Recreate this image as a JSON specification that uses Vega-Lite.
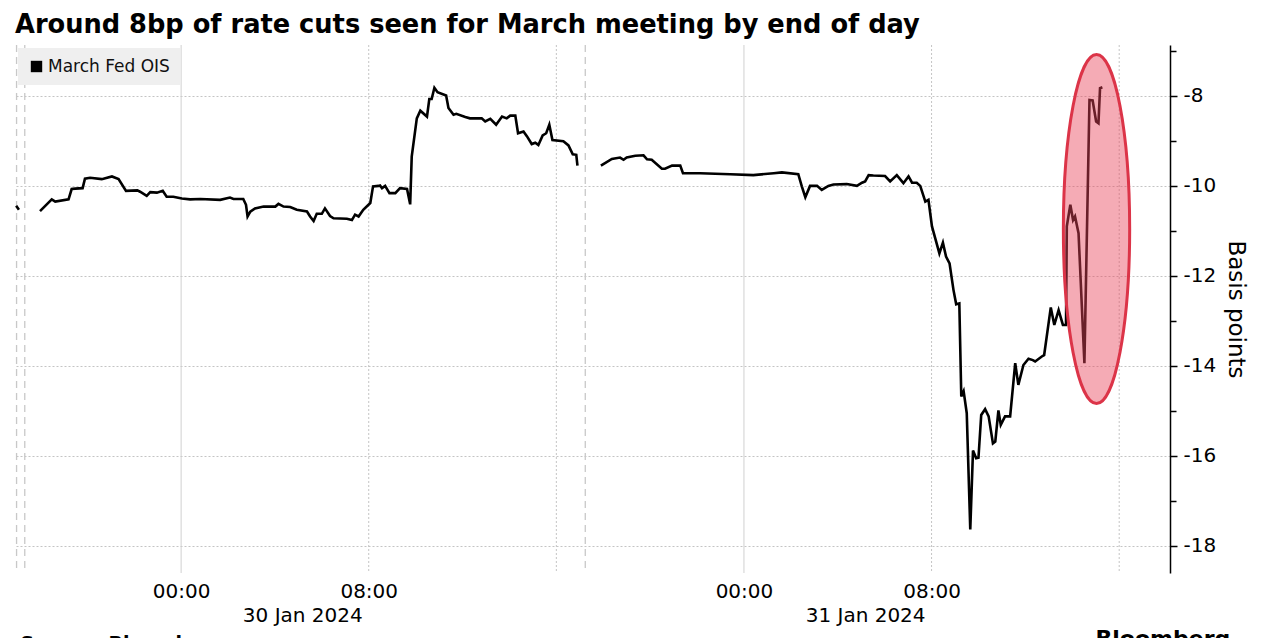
{
  "$schema": "https://vega.github.io/schema/vega-lite/v6.json",
  "autosize": {"type": "none"},
  "padding": {"left": 15, "top": 45, "right": 112, "bottom": 65},
  "width": 1155,
  "height": 528,
  "background": "#ffffff",
  "config": {"view": {"stroke": null}, "font": "DejaVu Sans"},
  "title": {
    "text": "Around 8bp of rate cuts seen for March meeting by end of day",
    "anchor": "start", "frame": "group", "font": "DejaVu Sans", "fontSize": 25.7, "fontWeight": "bold",
    "color": "#000000", "baseline": "alphabetic", "offset": 14, "dy": 28
  },
  "datasets": {
    "midnights": [{"t": "2024-01-30T00:00"}, {"t": "2024-01-31T00:00"}],
    "hours": [{"t": "2024-01-30T08:00"}, {"t": "2024-01-30T16:00"}, {"t": "2024-01-31T08:00"}, {"t": "2024-01-31T16:00"}],
    "breaks": [{"t": "2024-01-29T16:59"}, {"t": "2024-01-29T17:20"}, {"t": "2024-01-30T17:14"}],
    "highlight": [{"t": "2024-01-31T15:02", "v": -10.96}],
    "ois": [
      {"t": "2024-01-29T16:58", "v": -10.44, "seg": 1},
      {"t": "2024-01-29T17:05", "v": -10.53, "seg": 1},
      {"t": "2024-01-29T17:59", "v": -10.56, "seg": 2},
      {"t": "2024-01-29T18:29", "v": -10.30, "seg": 2},
      {"t": "2024-01-29T18:38", "v": -10.35, "seg": 2},
      {"t": "2024-01-29T19:12", "v": -10.30, "seg": 2},
      {"t": "2024-01-29T19:20", "v": -10.07, "seg": 2},
      {"t": "2024-01-29T19:29", "v": -10.06, "seg": 2},
      {"t": "2024-01-29T19:48", "v": -10.05, "seg": 2},
      {"t": "2024-01-29T19:54", "v": -9.84, "seg": 2},
      {"t": "2024-01-29T20:07", "v": -9.82, "seg": 2},
      {"t": "2024-01-29T20:37", "v": -9.85, "seg": 2},
      {"t": "2024-01-29T21:03", "v": -9.79, "seg": 2},
      {"t": "2024-01-29T21:20", "v": -9.85, "seg": 2},
      {"t": "2024-01-29T21:39", "v": -10.11, "seg": 2},
      {"t": "2024-01-29T22:08", "v": -10.10, "seg": 2},
      {"t": "2024-01-29T22:15", "v": -10.13, "seg": 2},
      {"t": "2024-01-29T22:32", "v": -10.22, "seg": 2},
      {"t": "2024-01-29T22:41", "v": -10.14, "seg": 2},
      {"t": "2024-01-29T22:58", "v": -10.15, "seg": 2},
      {"t": "2024-01-29T23:13", "v": -10.11, "seg": 2},
      {"t": "2024-01-29T23:23", "v": -10.24, "seg": 2},
      {"t": "2024-01-29T23:40", "v": -10.24, "seg": 2},
      {"t": "2024-01-30T00:02", "v": -10.28, "seg": 2},
      {"t": "2024-01-30T00:23", "v": -10.30, "seg": 2},
      {"t": "2024-01-30T00:49", "v": -10.29, "seg": 2},
      {"t": "2024-01-30T01:40", "v": -10.31, "seg": 2},
      {"t": "2024-01-30T02:05", "v": -10.26, "seg": 2},
      {"t": "2024-01-30T02:14", "v": -10.29, "seg": 2},
      {"t": "2024-01-30T02:39", "v": -10.29, "seg": 2},
      {"t": "2024-01-30T02:46", "v": -10.42, "seg": 2},
      {"t": "2024-01-30T02:50", "v": -10.68, "seg": 2},
      {"t": "2024-01-30T02:57", "v": -10.57, "seg": 2},
      {"t": "2024-01-30T03:09", "v": -10.50, "seg": 2},
      {"t": "2024-01-30T03:31", "v": -10.46, "seg": 2},
      {"t": "2024-01-30T04:01", "v": -10.46, "seg": 2},
      {"t": "2024-01-30T04:09", "v": -10.40, "seg": 2},
      {"t": "2024-01-30T04:22", "v": -10.46, "seg": 2},
      {"t": "2024-01-30T04:39", "v": -10.47, "seg": 2},
      {"t": "2024-01-30T04:56", "v": -10.53, "seg": 2},
      {"t": "2024-01-30T05:22", "v": -10.57, "seg": 2},
      {"t": "2024-01-30T05:30", "v": -10.68, "seg": 2},
      {"t": "2024-01-30T05:39", "v": -10.78, "seg": 2},
      {"t": "2024-01-30T05:47", "v": -10.62, "seg": 2},
      {"t": "2024-01-30T06:00", "v": -10.62, "seg": 2},
      {"t": "2024-01-30T06:08", "v": -10.50, "seg": 2},
      {"t": "2024-01-30T06:21", "v": -10.67, "seg": 2},
      {"t": "2024-01-30T06:30", "v": -10.72, "seg": 2},
      {"t": "2024-01-30T07:04", "v": -10.73, "seg": 2},
      {"t": "2024-01-30T07:17", "v": -10.76, "seg": 2},
      {"t": "2024-01-30T07:25", "v": -10.64, "seg": 2},
      {"t": "2024-01-30T07:34", "v": -10.68, "seg": 2},
      {"t": "2024-01-30T07:46", "v": -10.53, "seg": 2},
      {"t": "2024-01-30T08:04", "v": -10.38, "seg": 2},
      {"t": "2024-01-30T08:11", "v": -10.01, "seg": 2},
      {"t": "2024-01-30T08:25", "v": -10.00, "seg": 2},
      {"t": "2024-01-30T08:29", "v": -9.99, "seg": 2},
      {"t": "2024-01-30T08:34", "v": -10.05, "seg": 2},
      {"t": "2024-01-30T08:42", "v": -10.00, "seg": 2},
      {"t": "2024-01-30T08:53", "v": -10.16, "seg": 2},
      {"t": "2024-01-30T09:08", "v": -10.16, "seg": 2},
      {"t": "2024-01-30T09:20", "v": -10.05, "seg": 2},
      {"t": "2024-01-30T09:38", "v": -10.07, "seg": 2},
      {"t": "2024-01-30T09:46", "v": -10.41, "seg": 2},
      {"t": "2024-01-30T09:50", "v": -9.35, "seg": 2},
      {"t": "2024-01-30T10:03", "v": -8.50, "seg": 2},
      {"t": "2024-01-30T10:12", "v": -8.33, "seg": 2},
      {"t": "2024-01-30T10:29", "v": -8.46, "seg": 2},
      {"t": "2024-01-30T10:35", "v": -8.07, "seg": 2},
      {"t": "2024-01-30T10:41", "v": -8.07, "seg": 2},
      {"t": "2024-01-30T10:48", "v": -7.82, "seg": 2},
      {"t": "2024-01-30T10:56", "v": -7.92, "seg": 2},
      {"t": "2024-01-30T11:18", "v": -7.99, "seg": 2},
      {"t": "2024-01-30T11:24", "v": -8.27, "seg": 2},
      {"t": "2024-01-30T11:37", "v": -8.42, "seg": 2},
      {"t": "2024-01-30T11:44", "v": -8.40, "seg": 2},
      {"t": "2024-01-30T12:07", "v": -8.47, "seg": 2},
      {"t": "2024-01-30T12:19", "v": -8.50, "seg": 2},
      {"t": "2024-01-30T12:49", "v": -8.50, "seg": 2},
      {"t": "2024-01-30T12:58", "v": -8.57, "seg": 2},
      {"t": "2024-01-30T13:11", "v": -8.51, "seg": 2},
      {"t": "2024-01-30T13:26", "v": -8.64, "seg": 2},
      {"t": "2024-01-30T13:41", "v": -8.46, "seg": 2},
      {"t": "2024-01-30T13:53", "v": -8.50, "seg": 2},
      {"t": "2024-01-30T14:02", "v": -8.44, "seg": 2},
      {"t": "2024-01-30T14:15", "v": -8.44, "seg": 2},
      {"t": "2024-01-30T14:22", "v": -8.83, "seg": 2},
      {"t": "2024-01-30T14:36", "v": -8.79, "seg": 2},
      {"t": "2024-01-30T14:45", "v": -8.90, "seg": 2},
      {"t": "2024-01-30T14:57", "v": -9.07, "seg": 2},
      {"t": "2024-01-30T15:06", "v": -9.04, "seg": 2},
      {"t": "2024-01-30T15:14", "v": -9.09, "seg": 2},
      {"t": "2024-01-30T15:25", "v": -8.88, "seg": 2},
      {"t": "2024-01-30T15:34", "v": -8.83, "seg": 2},
      {"t": "2024-01-30T15:42", "v": -8.64, "seg": 2},
      {"t": "2024-01-30T15:50", "v": -8.98, "seg": 2},
      {"t": "2024-01-30T16:18", "v": -9.01, "seg": 2},
      {"t": "2024-01-30T16:31", "v": -9.10, "seg": 2},
      {"t": "2024-01-30T16:42", "v": -9.30, "seg": 2},
      {"t": "2024-01-30T16:51", "v": -9.31, "seg": 2},
      {"t": "2024-01-30T16:54", "v": -9.55, "seg": 2},
      {"t": "2024-01-30T17:54", "v": -9.55, "seg": 3},
      {"t": "2024-01-30T18:22", "v": -9.40, "seg": 3},
      {"t": "2024-01-30T18:43", "v": -9.37, "seg": 3},
      {"t": "2024-01-30T18:52", "v": -9.42, "seg": 3},
      {"t": "2024-01-30T19:00", "v": -9.37, "seg": 3},
      {"t": "2024-01-30T19:22", "v": -9.33, "seg": 3},
      {"t": "2024-01-30T19:43", "v": -9.32, "seg": 3},
      {"t": "2024-01-30T19:52", "v": -9.41, "seg": 3},
      {"t": "2024-01-30T20:04", "v": -9.42, "seg": 3},
      {"t": "2024-01-30T20:30", "v": -9.62, "seg": 3},
      {"t": "2024-01-30T20:38", "v": -9.62, "seg": 3},
      {"t": "2024-01-30T20:56", "v": -9.55, "seg": 3},
      {"t": "2024-01-30T21:17", "v": -9.55, "seg": 3},
      {"t": "2024-01-30T21:24", "v": -9.72, "seg": 3},
      {"t": "2024-01-30T21:42", "v": -9.72, "seg": 3},
      {"t": "2024-01-30T22:08", "v": -9.72, "seg": 3},
      {"t": "2024-01-30T23:25", "v": -9.74, "seg": 3},
      {"t": "2024-01-31T00:24", "v": -9.76, "seg": 3},
      {"t": "2024-01-31T01:16", "v": -9.72, "seg": 3},
      {"t": "2024-01-31T01:37", "v": -9.70, "seg": 3},
      {"t": "2024-01-31T02:19", "v": -9.74, "seg": 3},
      {"t": "2024-01-31T02:28", "v": -10.01, "seg": 3},
      {"t": "2024-01-31T02:37", "v": -10.25, "seg": 3},
      {"t": "2024-01-31T02:49", "v": -10.00, "seg": 3},
      {"t": "2024-01-31T03:07", "v": -10.00, "seg": 3},
      {"t": "2024-01-31T03:19", "v": -10.09, "seg": 3},
      {"t": "2024-01-31T03:36", "v": -10.00, "seg": 3},
      {"t": "2024-01-31T03:49", "v": -9.97, "seg": 3},
      {"t": "2024-01-31T04:23", "v": -9.96, "seg": 3},
      {"t": "2024-01-31T04:49", "v": -10.00, "seg": 3},
      {"t": "2024-01-31T05:02", "v": -9.93, "seg": 3},
      {"t": "2024-01-31T05:10", "v": -9.90, "seg": 3},
      {"t": "2024-01-31T05:19", "v": -9.76, "seg": 3},
      {"t": "2024-01-31T05:31", "v": -9.77, "seg": 3},
      {"t": "2024-01-31T06:01", "v": -9.78, "seg": 3},
      {"t": "2024-01-31T06:14", "v": -9.90, "seg": 3},
      {"t": "2024-01-31T06:31", "v": -9.76, "seg": 3},
      {"t": "2024-01-31T06:48", "v": -9.94, "seg": 3},
      {"t": "2024-01-31T07:01", "v": -9.79, "seg": 3},
      {"t": "2024-01-31T07:10", "v": -9.93, "seg": 3},
      {"t": "2024-01-31T07:22", "v": -9.93, "seg": 3},
      {"t": "2024-01-31T07:31", "v": -10.00, "seg": 3},
      {"t": "2024-01-31T07:44", "v": -10.35, "seg": 3},
      {"t": "2024-01-31T07:52", "v": -10.31, "seg": 3},
      {"t": "2024-01-31T08:01", "v": -10.90, "seg": 3},
      {"t": "2024-01-31T08:20", "v": -11.50, "seg": 3},
      {"t": "2024-01-31T08:29", "v": -11.26, "seg": 3},
      {"t": "2024-01-31T08:37", "v": -11.57, "seg": 3},
      {"t": "2024-01-31T08:46", "v": -11.72, "seg": 3},
      {"t": "2024-01-31T08:56", "v": -12.31, "seg": 3},
      {"t": "2024-01-31T09:03", "v": -12.63, "seg": 3},
      {"t": "2024-01-31T09:11", "v": -12.61, "seg": 3},
      {"t": "2024-01-31T09:16", "v": -14.68, "seg": 3},
      {"t": "2024-01-31T09:22", "v": -14.56, "seg": 3},
      {"t": "2024-01-31T09:30", "v": -15.05, "seg": 3},
      {"t": "2024-01-31T09:39", "v": -17.63, "seg": 3},
      {"t": "2024-01-31T09:46", "v": -15.88, "seg": 3},
      {"t": "2024-01-31T09:54", "v": -16.05, "seg": 3},
      {"t": "2024-01-31T10:00", "v": -16.04, "seg": 3},
      {"t": "2024-01-31T10:07", "v": -15.09, "seg": 3},
      {"t": "2024-01-31T10:17", "v": -14.96, "seg": 3},
      {"t": "2024-01-31T10:26", "v": -15.12, "seg": 3},
      {"t": "2024-01-31T10:37", "v": -15.72, "seg": 3},
      {"t": "2024-01-31T10:43", "v": -15.68, "seg": 3},
      {"t": "2024-01-31T10:51", "v": -14.99, "seg": 3},
      {"t": "2024-01-31T10:57", "v": -15.31, "seg": 3},
      {"t": "2024-01-31T11:08", "v": -15.12, "seg": 3},
      {"t": "2024-01-31T11:21", "v": -15.12, "seg": 3},
      {"t": "2024-01-31T11:34", "v": -13.94, "seg": 3},
      {"t": "2024-01-31T11:42", "v": -14.42, "seg": 3},
      {"t": "2024-01-31T11:55", "v": -13.98, "seg": 3},
      {"t": "2024-01-31T12:08", "v": -13.84, "seg": 3},
      {"t": "2024-01-31T12:19", "v": -13.87, "seg": 3},
      {"t": "2024-01-31T12:25", "v": -13.90, "seg": 3},
      {"t": "2024-01-31T12:42", "v": -13.79, "seg": 3},
      {"t": "2024-01-31T12:48", "v": -13.76, "seg": 3},
      {"t": "2024-01-31T13:05", "v": -12.70, "seg": 3},
      {"t": "2024-01-31T13:14", "v": -13.09, "seg": 3},
      {"t": "2024-01-31T13:25", "v": -12.76, "seg": 3},
      {"t": "2024-01-31T13:36", "v": -13.09, "seg": 3},
      {"t": "2024-01-31T13:44", "v": -13.09, "seg": 3},
      {"t": "2024-01-31T13:46", "v": -10.90, "seg": 3},
      {"t": "2024-01-31T13:55", "v": -10.42, "seg": 3},
      {"t": "2024-01-31T14:02", "v": -10.76, "seg": 3},
      {"t": "2024-01-31T14:07", "v": -10.68, "seg": 3},
      {"t": "2024-01-31T14:16", "v": -11.05, "seg": 3},
      {"t": "2024-01-31T14:31", "v": -13.94, "seg": 3},
      {"t": "2024-01-31T14:44", "v": -8.09, "seg": 3},
      {"t": "2024-01-31T14:52", "v": -8.10, "seg": 3},
      {"t": "2024-01-31T15:01", "v": -8.57, "seg": 3},
      {"t": "2024-01-31T15:07", "v": -8.61, "seg": 3},
      {"t": "2024-01-31T15:11", "v": -7.83, "seg": 3},
      {"t": "2024-01-31T15:17", "v": -7.81, "seg": 3}
    ]
  },
  "resolve": {"axis": {"x": "independent", "y": "independent"}},
  "layer": [
    {
      "data": {"name": "midnights"},
      "mark": {"type": "rule", "color": "#d0d0d0", "strokeWidth": 1},
      "encoding": {
        "x": {"field": "t", "type": "temporal", "axis": null,
          "scale": {"domain": [{"year": 2024, "month": 1, "date": 29, "hours": 16, "minutes": 55}, {"year": 2024, "month": 1, "date": 31, "hours": 18, "minutes": 10}]}}
      }
    },
    {
      "data": {"name": "hours"},
      "mark": {"type": "rule", "color": "#c4c4c4", "strokeWidth": 1, "strokeDash": [2, 2]},
      "encoding": {
        "x": {"field": "t", "type": "temporal", "axis": null}
      }
    },
    {
      "data": {"name": "breaks"},
      "mark": {"type": "rule", "color": "#c8c8c8", "strokeWidth": 1.3, "strokeDash": [7, 5]},
      "encoding": {
        "x": {"field": "t", "type": "temporal", "axis": null}
      }
    },
    {
      "data": {"name": "ois"},
      "mark": {"type": "line", "strokeWidth": 2.6, "interpolate": "linear"},
      "encoding": {
        "x": {"field": "t", "type": "temporal",
          "scale": {"domain": [{"year": 2024, "month": 1, "date": 29, "hours": 16, "minutes": 55}, {"year": 2024, "month": 1, "date": 31, "hours": 18, "minutes": 10}]},
          "axis": {
            "orient": "bottom",
            "values": [
              {"year": 2024, "month": 1, "date": 30, "hours": 0},
              {"year": 2024, "month": 1, "date": 30, "hours": 8},
              {"year": 2024, "month": 1, "date": 31, "hours": 0},
              {"year": 2024, "month": 1, "date": 31, "hours": 8}
            ],
            "format": "%H:%M", "labelFontSize": 20, "labelColor": "#000000", "labelFont": "DejaVu Sans",
            "labelPadding": 8, "ticks": false, "domain": false, "grid": false,
            "title": "Bloomberg", "titleFontSize": 22, "titleFontWeight": "bold", "titleColor": "#000000",
            "titleX": 1080, "titleY": 72, "titleAlign": "left", "titleBaseline": "alphabetic", "titleAngle": 0
          }
        },
        "y": {"field": "v", "type": "quantitative",
          "scale": {"domain": [-18.6, -6.87], "nice": false, "zero": false},
          "axis": {
            "orient": "right", "values": [-18, -16, -14, -12, -10, -8],
            "labelExpr": "'-' + abs(datum.value)",
            "labelFontSize": 20, "labelColor": "#000000", "labelFont": "DejaVu Sans", "labelPadding": 6,
            "tickSize": 7, "tickColor": "#000000", "tickWidth": 1.5,
            "domainColor": "#000000", "domainWidth": 1.5,
            "grid": true, "gridColor": "#c4c4c4", "gridDash": [2, 2], "gridWidth": 1,
            "title": "Basis points", "titleFontSize": 23, "titleFontWeight": "normal", "titleColor": "#000000",
            "titleFont": "DejaVu Sans", "titlePadding": 8
          }
        },
        "detail": {"field": "seg", "type": "nominal"},
        "color": {
          "datum": "March Fed OIS",
          "scale": {"range": ["#000000"]},
          "legend": {
            "orient": "top-left", "offset": 3, "title": null, "fillColor": "#efefef", "padding": 10,
            "symbolType": "square", "symbolSize": 130, "symbolFillColor": "#000000", "symbolStrokeWidth": 0,
            "labelFontSize": 17, "labelColor": "#111111", "labelFont": "DejaVu Sans", "labelOffset": 3,
            "encode": {"symbols": {"update": {"fill": {"value": "#000000"}, "stroke": {"value": "#000000"}, "strokeWidth": {"value": 0}}}}
          }
        }
      }
    },
    {
      "data": {"name": "highlight"},
      "mark": {
        "type": "point", "filled": true,
        "shape": "M0,-1 A0.19,1 0 0 1 0,1 A0.19,1 0 0 1 0,-1 Z",
        "size": 121800, "fill": "#e8445a", "fillOpacity": 0.45,
        "stroke": "#dc3448", "strokeWidth": 3, "strokeOpacity": 1, "opacity": 1
      },
      "encoding": {
        "x": {"field": "t", "type": "temporal",
          "axis": {
            "orient": "bottom",
            "values": [
              {"year": 2024, "month": 1, "date": 30, "hours": 5, "minutes": 10},
              {"year": 2024, "month": 1, "date": 31, "hours": 5, "minutes": 10}
            ],
            "format": "%-d %b %Y", "labelFontSize": 20, "labelColor": "#000000", "labelFont": "DejaVu Sans",
            "labelPadding": 32, "ticks": false, "domain": false, "grid": false,
            "title": "Source: Bloomberg", "titleFontSize": 19, "titleFontWeight": "bold", "titleColor": "#000000",
            "titleX": 5, "titleY": 76, "titleAlign": "left", "titleBaseline": "alphabetic", "titleAngle": 0
          }
        },
        "y": {"field": "v", "type": "quantitative",
          "axis": {
            "orient": "right", "values": [-17, -15, -13, -11, -9, -7],
            "labels": false, "grid": false, "domain": false,
            "tickSize": 6, "tickColor": "#000000", "tickWidth": 1.5, "title": null
          }
        }
      }
    }
  ]
}
